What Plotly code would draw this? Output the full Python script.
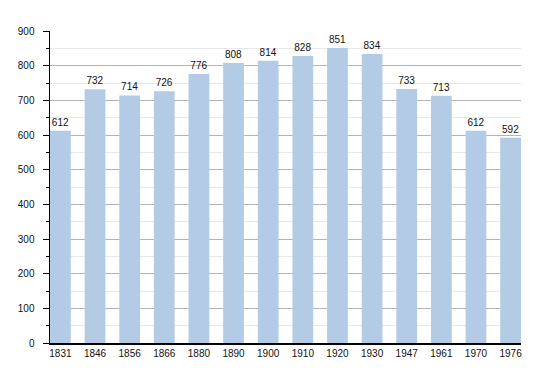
import plotly.graph_objects as go

years = ["1831", "1846", "1856", "1866", "1880", "1890", "1900", "1910", "1920", "1930", "1947", "1961", "1970", "1976"]
population = [612, 732, 714, 726, 776, 808, 814, 828, 851, 834, 733, 713, 612, 592]

fig = go.Figure(
    go.Bar(
        x=years,
        y=population,
        marker=dict(color="#b3cbe4", line=dict(width=0)),
        text=[str(v) for v in population],
        textposition="outside",
        textfont=dict(size=10, color="#111111", family="Liberation Sans, Arial, sans-serif"),
        cliponaxis=False,
        width=0.6,
        hoverinfo="skip",
    )
)

fig.update_layout(
    width=550,
    height=373,
    margin=dict(l=50, r=29, t=31, b=30),
    plot_bgcolor="white",
    paper_bgcolor="white",
    font=dict(family="Liberation Sans, Arial, sans-serif", size=10, color="#111111"),
    showlegend=False,
)

fig.update_xaxes(
    type="category",
    range=[-0.3, 13.3],
    showline=True,
    linecolor="black",
    linewidth=1.5,
    ticks="",
    showgrid=False,
    tickfont=dict(size=10),
)

fig.update_yaxes(
    range=[0, 900],
    dtick=100,
    showline=True,
    linecolor="black",
    linewidth=1.5,
    ticks="outside",
    ticklen=6,
    tickcolor="black",
    ticklabelstandoff=6,
    showgrid=True,
    gridcolor="#b4b4b4",
    gridwidth=1,
    zeroline=False,
    minor=dict(dtick=50, ticks="outside", ticklen=3, tickcolor="black", showgrid=True, gridcolor="#e8e8e8", gridwidth=1),
    tickfont=dict(size=10),
)

fig.write_html(
    "out.html",
    config={"displayModeBar": False, "staticPlot": True},
    post_script="document.body.style.margin='0';document.body.style.padding='0';",
)
